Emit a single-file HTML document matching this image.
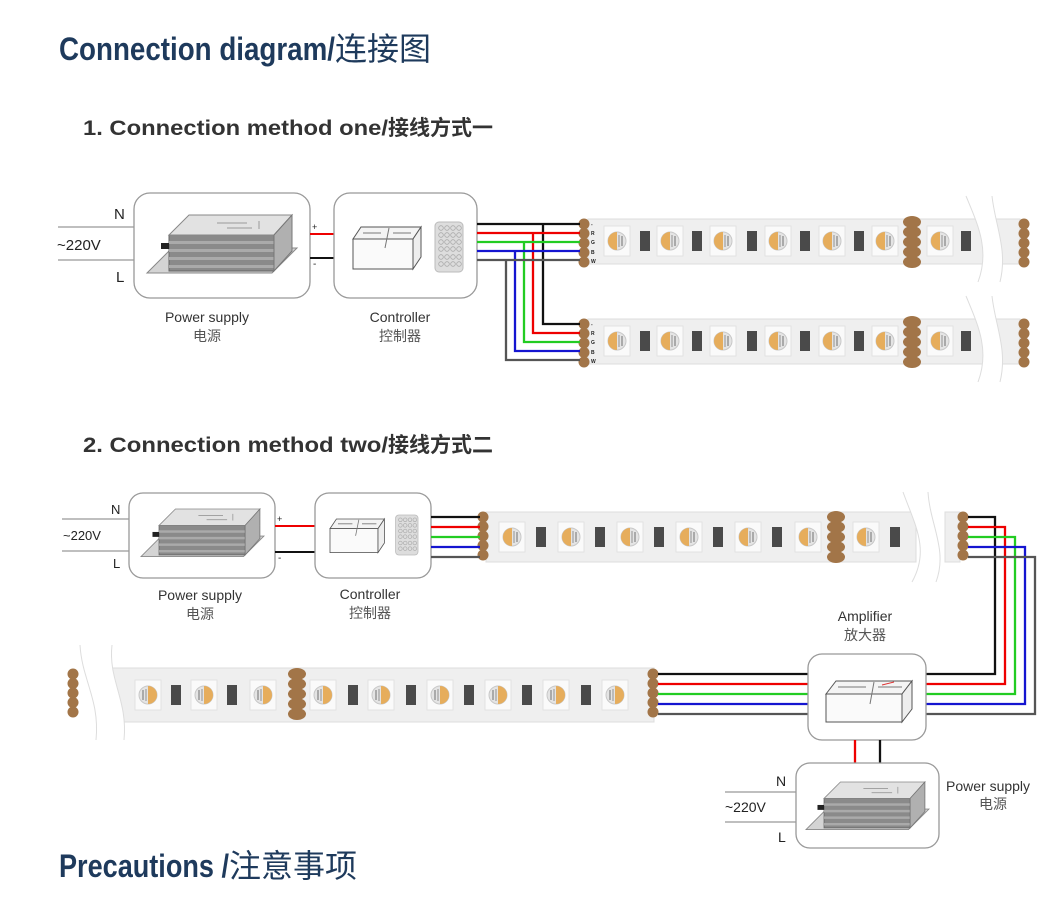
<!DOCTYPE html>
<html><head><meta charset="utf-8"><style>
html,body{margin:0;padding:0;background:#fff;}
svg{display:block;}
text{font-family:"Liberation Sans","Noto Sans CJK SC",sans-serif;}
</style></head><body>
<svg width="1063" height="909" viewBox="0 0 1063 909" xmlns="http://www.w3.org/2000/svg">
<defs>
  <g id="led">
    <rect x="-13" y="-15" width="26" height="30" fill="#fafafa" stroke="#e2e2e2"/>
    <circle r="9" fill="#e4e4e4" stroke="#c8c8c8"/>
    <path d="M0,-9 A9,9 0 0 0 0,9 Z" fill="#e6ad5c"/>
    <rect x="1" y="-6" width="2" height="12" fill="#bbb"/><rect x="4" y="-5" width="2" height="10" fill="#aaa"/>
  </g>
  <g id="ledr">
    <rect x="-13" y="-15" width="26" height="30" fill="#fafafa" stroke="#e2e2e2"/>
    <circle r="9" fill="#e4e4e4" stroke="#c8c8c8"/>
    <path d="M0,-9 A9,9 0 0 1 0,9 Z" fill="#e6ad5c"/>
    <rect x="-3" y="-6" width="2" height="12" fill="#bbb"/><rect x="-6" y="-5" width="2" height="10" fill="#aaa"/>
  </g>
  <rect id="res" x="-5" y="-10" width="10" height="20" fill="#4a4a4a"/>
  <g id="pads" fill="#a27548">
    <circle cx="0" cy="0" r="5.5"/><circle cx="0" cy="9.5" r="5.5"/><circle cx="0" cy="19" r="5.5"/><circle cx="0" cy="28.5" r="5.5"/><circle cx="0" cy="38" r="5.5"/>
  </g>
  <g id="bigpads" fill="#a27548">
    <ellipse cx="0" cy="0" rx="9" ry="6"/><ellipse cx="0" cy="10" rx="9" ry="6"/><ellipse cx="0" cy="20" rx="9" ry="6"/><ellipse cx="0" cy="30" rx="9" ry="6"/><ellipse cx="0" cy="40" rx="9" ry="6"/>
  </g>
  <g id="psu">
    <polygon points="0,58 25,33 150,33 125,58" fill="#d4d4d4" stroke="#888"/>
    <rect x="22" y="20" width="105" height="36" fill="#8a8a8a" stroke="#666"/>
    <rect x="22" y="26" width="105" height="3" fill="#aaa"/><rect x="22" y="34" width="105" height="3" fill="#aaa"/><rect x="22" y="42" width="105" height="3" fill="#aaa"/><rect x="22" y="50" width="105" height="3" fill="#aaa"/>
    <polygon points="22,20 42,0 145,0 127,20" fill="#e2e2e2" stroke="#888"/>
    <polygon points="127,20 145,0 145,36 127,56" fill="#b0b0b0" stroke="#777"/>
    <path d="M70,8 h30 M80,13 h25 M112,6 v8" stroke="#999" stroke-width="1" fill="none"/>
    <rect x="14" y="28" width="8" height="6" fill="#222"/>
  </g>
  <g id="ctrl">
    <polygon points="0,17 8,5 68,5 60,17" fill="#f4f4f4" stroke="#555"/>
    <rect x="0" y="17" width="60" height="30" fill="#fafafa" stroke="#555"/>
    <polygon points="60,17 68,5 68,35 60,47" fill="#eee" stroke="#555"/>
    <path d="M36,6 l-4,20 M10,11 h18 M40,11 h18" stroke="#777" stroke-width="1" fill="none"/>
    <rect x="82" y="0" width="28" height="50" rx="4" fill="#ddd" stroke="#bbb"/>
    <g fill="none" stroke="#aaa" stroke-width="0.8">
      <circle cx="88" cy="6" r="2.3"/><circle cx="94" cy="6" r="2.3"/><circle cx="100" cy="6" r="2.3"/><circle cx="106" cy="6" r="2.3"/>
      <circle cx="88" cy="13" r="2.3"/><circle cx="94" cy="13" r="2.3"/><circle cx="100" cy="13" r="2.3"/><circle cx="106" cy="13" r="2.3"/>
      <circle cx="88" cy="20" r="2.3"/><circle cx="94" cy="20" r="2.3"/><circle cx="100" cy="20" r="2.3"/><circle cx="106" cy="20" r="2.3"/>
      <circle cx="88" cy="27" r="2.3"/><circle cx="94" cy="27" r="2.3"/><circle cx="100" cy="27" r="2.3"/><circle cx="106" cy="27" r="2.3"/>
      <circle cx="88" cy="35" r="2.3"/><circle cx="94" cy="35" r="2.3"/><circle cx="100" cy="35" r="2.3"/><circle cx="106" cy="35" r="2.3"/>
      <circle cx="88" cy="42" r="2.3"/><circle cx="94" cy="42" r="2.3"/><circle cx="100" cy="42" r="2.3"/><circle cx="106" cy="42" r="2.3"/>
    </g>
  </g>
</defs>

<!-- Titles -->
<text x="59" y="60" font-size="32" font-weight="bold" fill="#1e3a5c" style="font-family:'Liberation Sans Narrow','Liberation Sans',sans-serif"><tspan textLength="276" lengthAdjust="spacingAndGlyphs">Connection diagram/</tspan><tspan font-weight="normal" style="font-family:'Noto Sans CJK SC',sans-serif">连接图</tspan></text>
<text x="83" y="135" font-size="21" font-weight="bold" fill="#333"><tspan textLength="305" lengthAdjust="spacingAndGlyphs">1. Connection method one/</tspan><tspan>接线方式一</tspan></text>
<text x="83" y="452" font-size="21" font-weight="bold" fill="#333"><tspan textLength="305" lengthAdjust="spacingAndGlyphs">2. Connection method two/</tspan><tspan>接线方式二</tspan></text>
<text x="59" y="877" font-size="32" font-weight="bold" fill="#1e3a5c" style="font-family:'Liberation Sans Narrow','Liberation Sans',sans-serif"><tspan textLength="170" lengthAdjust="spacingAndGlyphs">Precautions /</tspan><tspan font-weight="normal" style="font-family:'Noto Sans CJK SC',sans-serif">注意事项</tspan></text>

<!-- ===== Method one ===== -->
<g stroke="#999" stroke-width="1.2">
  <line x1="58" y1="227" x2="134" y2="227"/><line x1="58" y1="260" x2="134" y2="260"/>
</g>
<text x="114" y="219" font-size="15" fill="#222">N</text>
<text x="57" y="250" font-size="15" fill="#222">~220V</text>
<text x="116" y="282" font-size="15" fill="#222">L</text>
<rect x="134" y="193" width="176" height="105" rx="16" fill="#fff" stroke="#999" stroke-width="1.3"/>
<use href="#psu" x="147" y="215"/>
<line x1="310" y1="234" x2="334" y2="234" stroke="#e00" stroke-width="2"/>
<line x1="310" y1="258" x2="334" y2="258" stroke="#111" stroke-width="2"/>
<text x="312" y="230" font-size="9" fill="#222">+</text>
<text x="313" y="267" font-size="10" fill="#222">-</text>
<rect x="334" y="193" width="143" height="105" rx="16" fill="#fff" stroke="#999" stroke-width="1.3"/>
<use href="#ctrl" x="353" y="222"/>
<text x="207" y="322" font-size="14" fill="#333" text-anchor="middle">Power supply</text>
<text x="207" y="341" font-size="14" fill="#555" text-anchor="middle">电源</text>
<text x="400" y="322" font-size="14" fill="#333" text-anchor="middle">Controller</text>
<text x="400" y="341" font-size="14" fill="#555" text-anchor="middle">控制器</text>

<!-- strips method one -->
<g id="strip1">
  <rect x="588" y="219" width="395" height="45" fill="#efefef" stroke="#ddd"/>
  <rect x="995" y="219" width="25" height="45" fill="#efefef" stroke="#ddd"/>
  <path d="M966,196 C978,225 990,250 978,282 L1000,282 C1008,250 995,225 992,196 Z" fill="#fff"/>
  <path d="M966,196 C978,225 990,250 978,282 M992,196 C995,225 1008,250 1000,282" fill="none" stroke="#ddd"/>
  <use href="#pads" x="584" y="224"/>
  <use href="#pads" x="1024" y="224"/>
  <use href="#bigpads" x="912" y="222"/>
  <use href="#led" x="617" y="241"/><use href="#led" x="670" y="241"/><use href="#led" x="723" y="241"/><use href="#led" x="778" y="241"/><use href="#led" x="832" y="241"/><use href="#led" x="885" y="241"/><use href="#led" x="940" y="241"/>
  <use href="#res" x="645" y="241"/><use href="#res" x="697" y="241"/><use href="#res" x="752" y="241"/><use href="#res" x="805" y="241"/><use href="#res" x="859" y="241"/><use href="#res" x="966" y="241"/>
  <g font-size="5" font-weight="bold" fill="#222"><text x="591" y="226">-</text><text x="591" y="235">R</text><text x="591" y="244">G</text><text x="591" y="254">B</text><text x="591" y="263">W</text></g>
</g>
<use href="#strip1" x="0" y="100"/>

<g fill="none" stroke-width="2.3">
  <path d="M477,224 H580 M543,224 V324 H580" stroke="#111"/>
  <path d="M477,233 H580 M533,233 V333 H580" stroke="#e00"/>
  <path d="M477,242 H580 M524,242 V342 H580" stroke="#22cc22"/>
  <path d="M477,251 H580 M515,251 V351 H580" stroke="#1515d0"/>
  <path d="M477,260 H580 M506,260 V360 H580" stroke="#555"/>
</g>

<!-- ===== Method two ===== -->
<g stroke="#999" stroke-width="1.2">
  <line x1="62" y1="519" x2="129" y2="519"/><line x1="62" y1="551" x2="129" y2="551"/>
</g>
<text x="111" y="514" font-size="13" fill="#222">N</text>
<text x="63" y="540" font-size="13" fill="#222">~220V</text>
<text x="113" y="568" font-size="13" fill="#222">L</text>
<rect x="129" y="493" width="146" height="85" rx="14" fill="#fff" stroke="#999" stroke-width="1.3"/>
<g transform="translate(141,509) scale(0.82)"><use href="#psu"/></g>
<line x1="275" y1="526" x2="315" y2="526" stroke="#e00" stroke-width="2"/>
<line x1="275" y1="552" x2="315" y2="552" stroke="#111" stroke-width="2"/>
<text x="277" y="522" font-size="9" fill="#222">+</text>
<text x="278" y="561" font-size="10" fill="#222">-</text>
<rect x="315" y="493" width="116" height="85" rx="14" fill="#fff" stroke="#999" stroke-width="1.3"/>
<g transform="translate(330,515) scale(0.8)"><use href="#ctrl"/></g>
<text x="200" y="600" font-size="14" fill="#333" text-anchor="middle">Power supply</text>
<text x="200" y="619" font-size="14" fill="#555" text-anchor="middle">电源</text>
<text x="370" y="599" font-size="14" fill="#333" text-anchor="middle">Controller</text>
<text x="370" y="618" font-size="14" fill="#555" text-anchor="middle">控制器</text>

<!-- strip A -->
<rect x="486" y="512" width="430" height="50" fill="#efefef" stroke="#ddd"/>
<rect x="945" y="512" width="15" height="50" fill="#efefef" stroke="#ddd"/>
<path d="M903,492 C915,525 930,550 912,582 L936,582 C948,550 930,525 928,492 Z" fill="#fff"/>
<path d="M903,492 C915,525 930,550 912,582 M928,492 C930,525 948,550 936,582" fill="none" stroke="#ddd"/>
<use href="#pads" x="483" y="517"/>
<use href="#pads" x="963" y="517"/>
<use href="#bigpads" x="836" y="517"/>
<use href="#led" x="512" y="537"/><use href="#led" x="571" y="537"/><use href="#led" x="630" y="537"/><use href="#led" x="689" y="537"/><use href="#led" x="748" y="537"/><use href="#led" x="808" y="537"/><use href="#led" x="866" y="537"/>
<use href="#res" x="541" y="537"/><use href="#res" x="600" y="537"/><use href="#res" x="659" y="537"/><use href="#res" x="718" y="537"/><use href="#res" x="777" y="537"/><use href="#res" x="895" y="537"/>
<g fill="none" stroke-width="2.3">
  <path d="M431,517 H480" stroke="#111"/>
  <path d="M431,527 H480" stroke="#e00"/>
  <path d="M431,537 H480" stroke="#22cc22"/>
  <path d="M431,547 H480" stroke="#1515d0"/>
  <path d="M431,557 H480" stroke="#555"/>
</g>

<!-- strip B -->
<rect x="108" y="668" width="546" height="54" fill="#efefef" stroke="#ddd"/>
<path d="M80,645 C82,680 100,700 96,740 L124,740 C128,700 108,680 112,645 Z" fill="#fff"/>
<path d="M80,645 C82,680 100,700 96,740 M112,645 C108,680 128,700 124,740" fill="none" stroke="#ddd"/>
<use href="#pads" x="73" y="674"/>
<use href="#pads" x="653" y="674"/>
<use href="#bigpads" x="297" y="674"/>
<use href="#ledr" x="148" y="695"/><use href="#ledr" x="204" y="695"/><use href="#ledr" x="263" y="695"/><use href="#ledr" x="323" y="695"/><use href="#ledr" x="381" y="695"/><use href="#ledr" x="440" y="695"/><use href="#ledr" x="498" y="695"/><use href="#ledr" x="556" y="695"/><use href="#ledr" x="615" y="695"/>
<use href="#res" x="176" y="695"/><use href="#res" x="232" y="695"/><use href="#res" x="353" y="695"/><use href="#res" x="411" y="695"/><use href="#res" x="469" y="695"/><use href="#res" x="527" y="695"/><use href="#res" x="586" y="695"/>

<!-- amplifier wires -->
<g fill="none" stroke-width="2.3">
  <path d="M968,517 H995 V674 H926 M808,674 H658" stroke="#111"/>
  <path d="M968,527 H1005 V684 H926 M808,684 H658" stroke="#e00"/>
  <path d="M968,537 H1015 V694 H926 M808,694 H658" stroke="#22cc22"/>
  <path d="M968,547 H1025 V704 H926 M808,704 H658" stroke="#1515d0"/>
  <path d="M968,557 H1035 V714 H926 M808,714 H658" stroke="#555"/>
</g>
<text x="865" y="621" font-size="14" fill="#333" text-anchor="middle">Amplifier</text>
<text x="865" y="640" font-size="14" fill="#555" text-anchor="middle">放大器</text>
<rect x="808" y="654" width="118" height="86" rx="14" fill="#fff" stroke="#999" stroke-width="1.3"/>
<g transform="translate(826,676)">
  <polygon points="0,18 10,5 86,5 76,18" fill="#f4f4f4" stroke="#555"/>
  <rect x="0" y="18" width="76" height="28" fill="#fafafa" stroke="#555"/>
  <polygon points="76,18 86,5 86,33 76,46" fill="#eee" stroke="#555"/>
  <path d="M48,6 l-4,22 M12,11 h28 M52,11 h24" stroke="#777" stroke-width="1" fill="none"/>
  <path d="M56,9 l12,-3" stroke="#d33" stroke-width="1"/>
</g>
<line x1="855" y1="740" x2="855" y2="763" stroke="#e00" stroke-width="2.3"/>
<line x1="880" y1="740" x2="880" y2="763" stroke="#111" stroke-width="2.3"/>

<g stroke="#999" stroke-width="1.2">
  <line x1="725" y1="792" x2="796" y2="792"/><line x1="725" y1="822" x2="796" y2="822"/>
</g>
<text x="776" y="786" font-size="14" fill="#222">N</text>
<text x="725" y="812" font-size="14" fill="#222">~220V</text>
<text x="778" y="842" font-size="14" fill="#222">L</text>
<rect x="796" y="763" width="143" height="85" rx="14" fill="#fff" stroke="#999" stroke-width="1.3"/>
<g transform="translate(806,782) scale(0.82)"><use href="#psu"/></g>
<text x="946" y="791" font-size="14" fill="#333">Power supply</text>
<text x="993" y="809" font-size="14" fill="#555" text-anchor="middle">电源</text>
</svg>
</body></html>
